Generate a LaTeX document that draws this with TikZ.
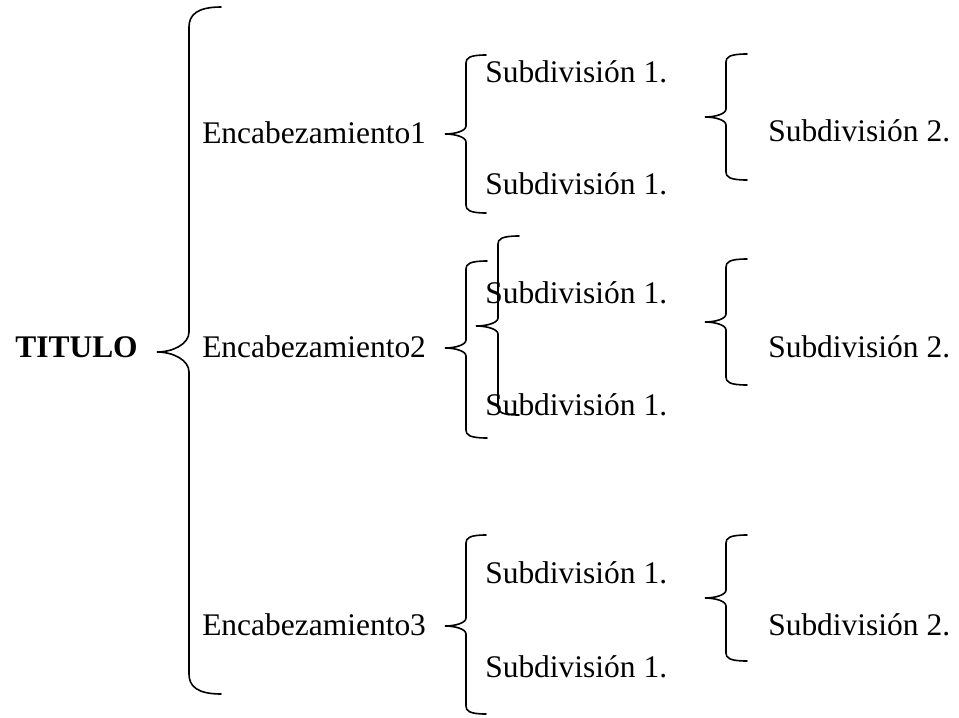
\documentclass[tikz,border=0pt]{standalone}
\usepackage{fontspec}
\setmainfont{Liberation Serif}
\usetikzlibrary{positioning}

% llave: x vertical, y arriba, y punta, y abajo, x punta, x extremo, radio
\newcommand{\llave}[7]{%
  \draw[llave] (#6,#2) .. controls (#1+0.4*#7,#2) and (#1,#2+0.4*#7) .. (#1,#2+#7)
    -- (#1,#3-#7)
    .. controls (#1,#3-0.4*#7) and (#5+0.5*#1-0.5*#5,#3) .. (#5,#3)
    .. controls (#5+0.5*#1-0.5*#5,#3) and (#1,#3+0.4*#7) .. (#1,#3+#7)
    -- (#1,#4-#7)
    .. controls (#1,#4-0.4*#7) and (#1+0.4*#7,#4) .. (#6,#4);}

\tikzset{
  llave/.style={line width=1.2pt, line cap=round},
  texto/.style={inner sep=0pt, anchor=base west, font=\fontsize{23.6}{28}\selectfont}
}

\begin{document}
\begin{tikzpicture}[x=0.75pt,y=-0.75pt]
        \useasboundingbox (0,0) rectangle (959,717);
        % titulo
        \node[texto, anchor=base east, font=\fontsize{23.6}{28}\selectfont\bfseries] (titulo) at (138,357) {TITULO};
        \llave{189}{7}{352}{694}{157}{221}{20}
        % encabezamientos
        \node[texto] (enc1) at (202,143) {Encabezamiento1};
        \node[texto] (enc2) at (202,357) {Encabezamiento2};
        \node[texto] (enc3) at (202,635) {Encabezamiento3};
        \llave{466}{55}{134}{213}{445}{486}{8}
        \llave{466}{261}{348}{438}{445}{487}{8}
        \llave{498}{236}{326}{415}{476}{519}{8}
        \llave{466}{535}{626}{714}{445}{486}{8}
        % subdivisiones 1
        \node[texto] (sub1a) at (485,83) {Subdivisión 1.};
        \node[texto] (sub1b) at (485,194) {Subdivisión 1.};
        \node[texto] (sub2a) at (485,303) {Subdivisión 1.};
        \node[texto] (sub2b) at (485,415) {Subdivisión 1.};
        \node[texto] (sub3a) at (485,583) {Subdivisión 1.};
        \node[texto] (sub3b) at (485,677) {Subdivisión 1.};
        % subdivisiones 2
        \llave{726}{54}{117}{180}{705}{747}{8}
        \llave{726}{259}{322}{385}{705}{747}{8}
        \llave{726}{535}{598}{661}{705}{747}{8}
        \node[texto] (subdos1) at (768,141) {Subdivisión 2.};
        \node[texto] (subdos2) at (768,357) {Subdivisión 2.};
        \node[texto] (subdos3) at (768,635) {Subdivisión 2.};
    \end{tikzpicture}
\end{document}
